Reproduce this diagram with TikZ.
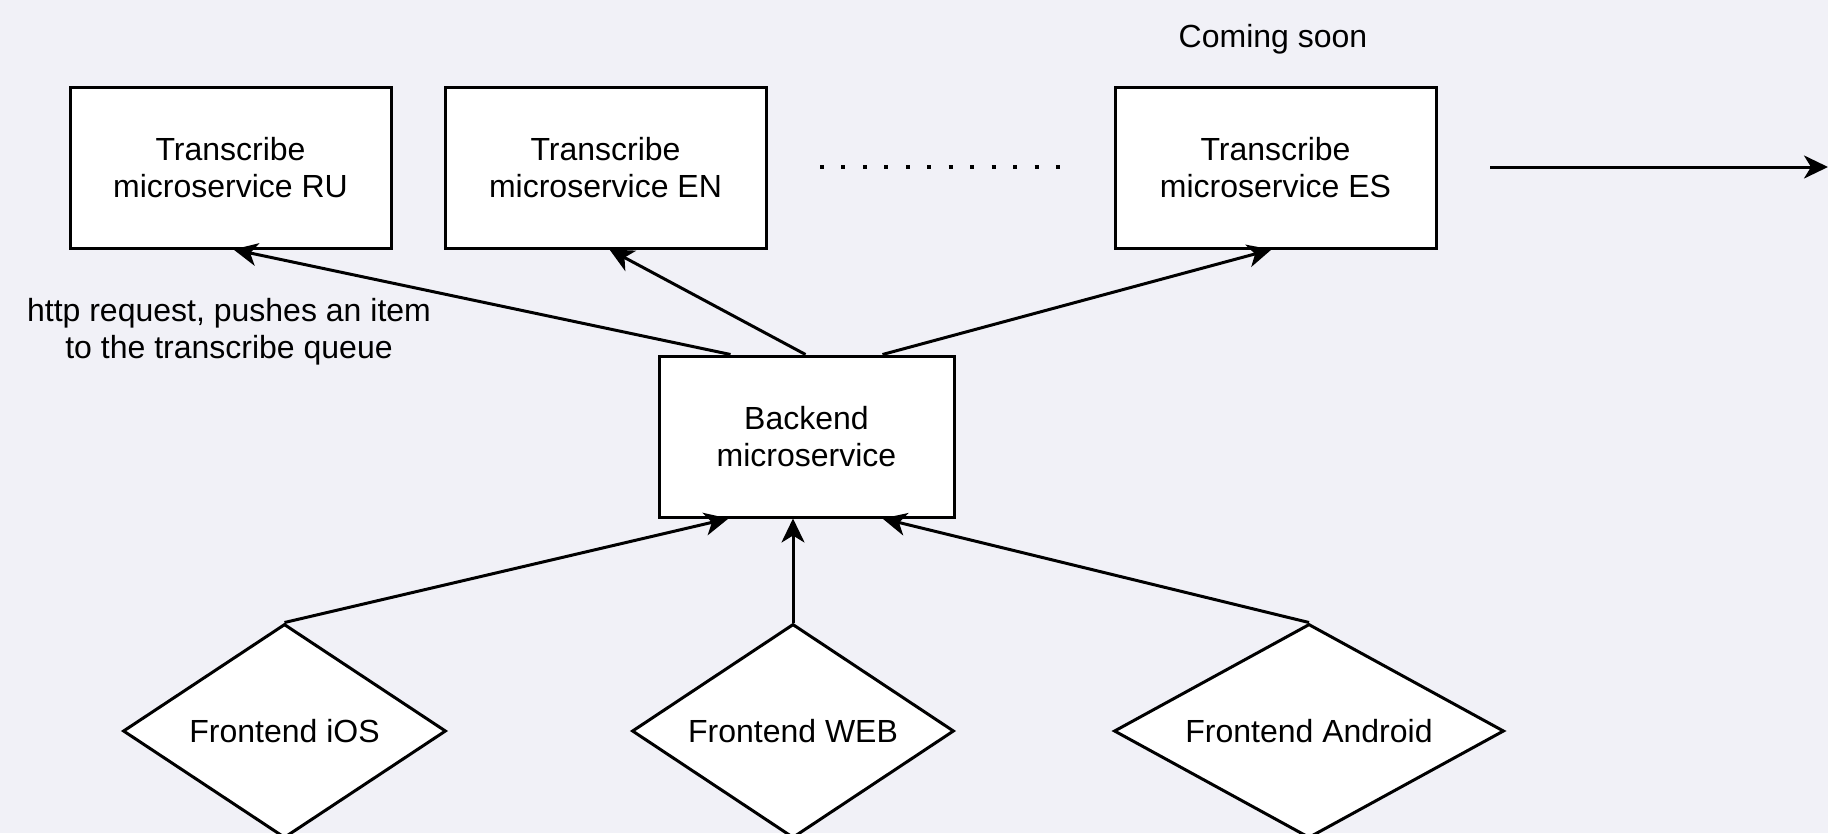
\documentclass[tikz,border=0pt]{standalone}
\usepackage{fontspec}
\setmainfont{Liberation Sans}
\usetikzlibrary{shapes.geometric,arrows.meta}
\definecolor{bgc}{RGB}{241,241,247}
\tikzset{
  box/.style={draw=black, fill=white, line width=3pt, rectangle, minimum width=321pt, minimum height=161pt, inner sep=0pt, align=center, font=\fontsize{32}{37}\selectfont},
  dia/.style={draw=black, fill=white, line width=3pt, diamond, minimum height=214pt, inner sep=0pt},
  txt/.style={align=center, font=\fontsize{32}{37}\selectfont, inner sep=0pt},
  arr/.style={line width=3pt, -{Stealth[length=24pt, width=23pt, inset=7pt]}}
}
\begin{document}
\begin{tikzpicture}[x=1pt, y=-1pt]
\fill[bgc] (0,0) rectangle (1828,833);
\useasboundingbox (0,0) rectangle (1828,833);

\node[box] (ru) at (230.5,167.5) {Transcribe\\microservice RU};
\node[box] (en) at (605.5,167.5) {Transcribe\\microservice EN};
\node[box] (es) at (1275.5,167.5) {Transcribe\\microservice ES};
\node[txt] (soon) at (1273,39) {Coming soon};
\node[box, minimum width=295pt, minimum height=161pt] (be) at (806.5,436.5) {Backend\\microservice};
\node[txt] (lbl) at (229,332) {http request, pushes an item\\to the transcribe queue};

\node[dia, minimum width=323pt, label={[txt]center:Frontend iOS}] (ios) at (284.5,731) {};
\node[dia, minimum width=322pt, label={[txt]center:Frontend WEB}] (web) at (793,731) {};
\node[dia, minimum width=390pt, label={[txt]center:Frontend Android}] (and) at (1309,731) {};

% dots
\draw[line width=4pt, dash pattern=on 4pt off 17.45pt] (820,167) -- (1064,167);

% right arrow
\coordinate (rs) at (1490,167);
\coordinate (re) at (1828,167);
\draw[arr] (rs) -- (re);

% backend -> transcribe
\draw[arr] ([xshift=-76pt]be.north) -- ([xshift=3pt]ru.south);
\draw[arr] ([xshift=-1pt]be.north) -- ([xshift=4pt]en.south);
\draw[arr] ([xshift=76pt]be.north) -- ([xshift=-4pt]es.south);

% frontends -> backend
\draw[arr] (ios.north) -- ([xshift=-78pt]be.south);
\draw[arr] (web.north) -- ([xshift=-13.5pt]be.south);
\draw[arr] (and.north) -- ([xshift=76pt]be.south);
\end{tikzpicture}
\end{document}
